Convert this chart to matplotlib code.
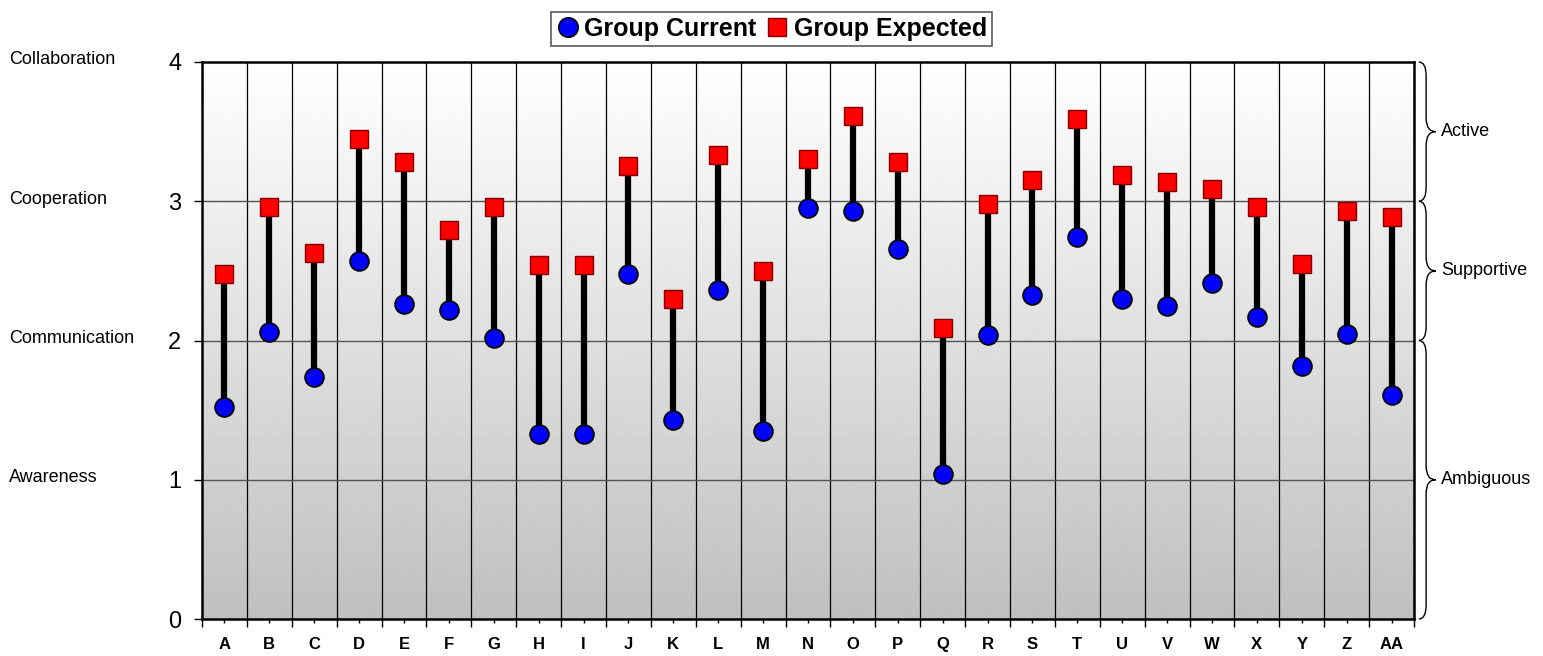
import matplotlib
matplotlib.use('Agg')
import matplotlib.pyplot as plt
import numpy as np
from matplotlib.lines import Line2D
from matplotlib.path import Path
from matplotlib.patches import PathPatch
import matplotlib.transforms as mtransforms

plt.rcParams['font.family'] = ['Liberation Sans', 'DejaVu Sans']

categories = ['A', 'B', 'C', 'D', 'E', 'F', 'G', 'H', 'I', 'J', 'K', 'L', 'M', 'N',
              'O', 'P', 'Q', 'R', 'S', 'T', 'U', 'V', 'W', 'X', 'Y', 'Z', 'AA']
current = [1.52, 2.06, 1.74, 2.57, 2.26, 2.22, 2.02, 1.33, 1.33, 2.48, 1.43, 2.36, 1.35, 2.95,
           2.93, 2.66, 1.04, 2.04, 2.33, 2.74, 2.30, 2.25, 2.41, 2.17, 1.82, 2.05, 1.61]
expected = [2.48, 2.96, 2.63, 3.45, 3.28, 2.79, 2.96, 2.54, 2.54, 3.25, 2.30, 3.33, 2.50, 3.30,
            3.61, 3.28, 2.09, 2.98, 3.15, 3.59, 3.19, 3.14, 3.09, 2.96, 2.55, 2.93, 2.89]
level_names = ['Awareness', 'Communication', 'Cooperation', 'Collaboration']
level_values = [1, 2, 3, 4]
bands = [('Active', 3, 4), ('Supportive', 2, 3), ('Ambiguous', 0, 2)]

W, H = 1543, 656
fig = plt.figure(figsize=(W / 100, H / 100), dpi=100)
ax = fig.add_axes([202 / W, 1 - 619 / H, (1414 - 202) / W, (619 - 62) / H])

n = len(categories)
x = np.arange(n)
ax.set_xlim(-0.5, n - 0.5)
ax.set_ylim(0, 4)

# gradient background
grad = np.linspace(1.0, 0.75, 256).reshape(-1, 1)
ax.imshow(grad, extent=[0, 1, 0, 1], transform=ax.transAxes, cmap='gray',
          vmin=0, vmax=1, aspect='auto', zorder=0)

# grid
for b in np.arange(-0.5, n, 1.0)[1:]:
    ax.axvline(b, color='black', lw=0.9, zorder=1)
for v in [1, 2, 3]:
    ax.axhline(v, color='#555555', lw=1.0, zorder=1)

# lines + markers
for xi, c, e in zip(x, current, expected):
    ax.plot([xi, xi], [c, e], color='black', lw=4.5, zorder=2, solid_capstyle='butt')
ax.plot(x, current, 'o', ms=13.5, mfc='#0000ff', mec='black', mew=1.3, zorder=4, clip_on=False)
ax.plot(x, expected, 's', ms=12.5, mfc='#ff0000', mec='#800000', mew=1.0, zorder=3, clip_on=False)

# axes styling
for s in ax.spines.values():
    s.set_linewidth(1.8)
    s.set_color('black')
ax.set_yticks([0, 1, 2, 3, 4])
ax.tick_params(axis='y', labelsize=17, length=6, width=1, pad=9)
ax.set_xticks(x)
ax.set_xticklabels(categories, fontsize=12, fontweight='bold')
ax.set_xticks(np.arange(-0.5, n, 1.0), minor=True)
ax.tick_params(axis='x', which='major', length=3, width=1, pad=10)
ax.tick_params(axis='x', which='minor', length=6, width=1)

# left level names
for name, v in zip(level_names, level_values):
    fig.text(9 / W, ax.transData.transform((0, v))[1] / H + 2 / H, name,
             fontsize=13, ha='left', va='center')

# right braces
trans = mtransforms.blended_transform_factory(ax.transAxes, ax.transData)
x0, x1, x2 = 1.004, 1.010, 1.018
for label, lo, hi in bands:
    mid = (lo + hi) / 2
    r = 0.1
    verts = [(x0, hi), (x1, hi), (x1, hi - r),
             (x1, mid + r),
             (x1, mid), (x2, mid),
             (x1, mid), (x1, mid - r),
             (x1, lo + r),
             (x1, lo), (x0, lo)]
    codes = [Path.MOVETO, Path.CURVE3, Path.CURVE3,
             Path.LINETO,
             Path.CURVE3, Path.CURVE3,
             Path.CURVE3, Path.CURVE3,
             Path.LINETO,
             Path.CURVE3, Path.CURVE3]
    ax.add_patch(PathPatch(Path(verts, codes), transform=trans, fill=False,
                           lw=1.0, edgecolor='black', clip_on=False))
    ax.text(1.0225, mid, label, transform=trans, fontsize=13, ha='left', va='center')

# legend
handles = [Line2D([], [], marker='o', ls='none', ms=14, mfc='#0000ff', mec='black', mew=1.2),
           Line2D([], [], marker='s', ls='none', ms=13, mfc='#ff0000', mec='#800000', mew=1.0)]
leg = fig.legend(handles, ['Group Current', 'Group Expected'], loc='upper center',
                 bbox_to_anchor=(0.5, 1 - 12 / H), ncol=2, frameon=True, fancybox=False,
                 prop={'size': 18, 'weight': 'bold'}, handletextpad=0.2, columnspacing=0.4,
                 handlelength=0.9, borderpad=0.2, borderaxespad=0)
leg.get_frame().set_edgecolor('#333333')
leg.get_frame().set_linewidth(1.2)

plt.savefig('out.png', dpi=100)
